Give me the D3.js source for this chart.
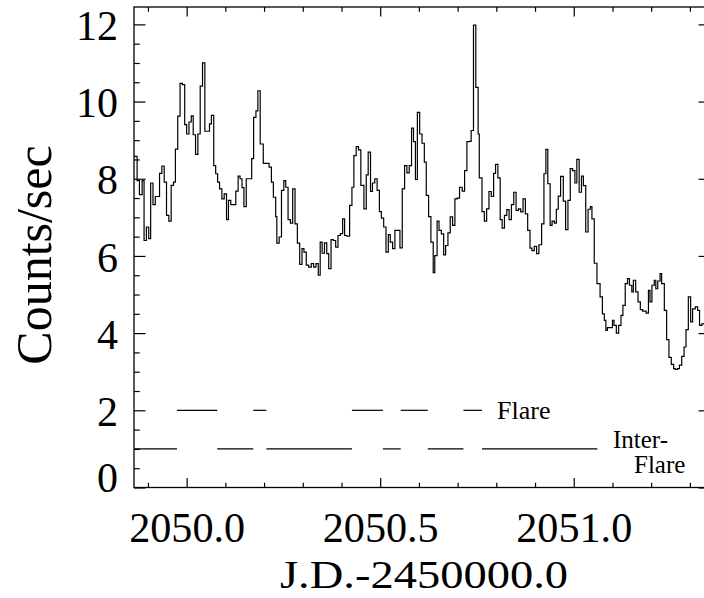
<!DOCTYPE html>
<html>
<head>
<meta charset="utf-8">
<script src="https://cdn.jsdelivr.net/npm/d3@7"></script>
<style>
  body { margin: 0; background: #fff; }
  #chart text { font-family: "Liberation Serif", "Times New Roman", serif; fill: #000; }
</style>
</head>
<body>
<svg id="chart"></svg>
<script>
// light curve, step histogram (bin start JD, counts/sec)
const binStart = [
  2049.864, 2049.872, 2049.878, 2049.885, 2049.890, 2049.896, 2049.902, 2049.907, 2049.913, 2049.919,
  2049.930, 2049.936, 2049.942, 2049.948, 2049.954, 2049.960, 2049.966, 2049.971, 2049.977, 2049.983,
  2049.989, 2049.995, 2050.000, 2050.006, 2050.012, 2050.017, 2050.023, 2050.029, 2050.035, 2050.041,
  2050.047, 2050.059, 2050.064, 2050.070, 2050.075, 2050.080, 2050.085, 2050.091, 2050.097, 2050.103,
  2050.108, 2050.114, 2050.127, 2050.133, 2050.138, 2050.143, 2050.148, 2050.154, 2050.168, 2050.173,
  2050.179, 2050.184, 2050.190, 2050.198, 2050.213, 2050.219, 2050.224, 2050.230, 2050.233, 2050.239,
  2050.245, 2050.251, 2050.256, 2050.262, 2050.268, 2050.274, 2050.280, 2050.286, 2050.292, 2050.298,
  2050.303, 2050.309, 2050.315, 2050.322, 2050.328, 2050.334, 2050.340, 2050.345, 2050.350, 2050.356,
  2050.362, 2050.367, 2050.373, 2050.379, 2050.385, 2050.391, 2050.397, 2050.403, 2050.408, 2050.414,
  2050.421, 2050.427, 2050.432, 2050.438, 2050.444, 2050.450, 2050.458, 2050.464, 2050.469, 2050.475,
  2050.480, 2050.486, 2050.492, 2050.498, 2050.503, 2050.509, 2050.515, 2050.521, 2050.526, 2050.532,
  2050.538, 2050.551, 2050.557, 2050.563, 2050.569, 2050.575, 2050.581, 2050.586, 2050.591, 2050.596,
  2050.602, 2050.608, 2050.614, 2050.619, 2050.625, 2050.631, 2050.637, 2050.641, 2050.647, 2050.652,
  2050.658, 2050.664, 2050.669, 2050.675, 2050.681, 2050.687, 2050.693, 2050.699, 2050.705, 2050.712,
  2050.718, 2050.724, 2050.730, 2050.735, 2050.741, 2050.747, 2050.753, 2050.756, 2050.763, 2050.769,
  2050.775, 2050.781, 2050.787, 2050.793, 2050.798, 2050.804, 2050.810, 2050.815, 2050.821, 2050.827,
  2050.833, 2050.839, 2050.845, 2050.851, 2050.857, 2050.863, 2050.869, 2050.875, 2050.881, 2050.887,
  2050.892, 2050.898, 2050.904, 2050.910, 2050.917, 2050.923, 2050.928, 2050.933, 2050.939, 2050.944,
  2050.950, 2050.955, 2050.960, 2050.966, 2050.973, 2050.979, 2050.985, 2050.991, 2050.997, 2051.003,
  2051.008, 2051.014, 2051.020, 2051.025, 2051.031, 2051.037, 2051.043, 2051.047, 2051.053, 2051.060,
  2051.068, 2051.074, 2051.079, 2051.083, 2051.087, 2051.100, 2051.104, 2051.110, 2051.116, 2051.122,
  2051.127, 2051.133, 2051.139, 2051.144, 2051.150, 2051.154, 2051.160, 2051.166, 2051.172, 2051.178,
  2051.187, 2051.193, 2051.197, 2051.202, 2051.208, 2051.212, 2051.217, 2051.223, 2051.227, 2051.234,
  2051.240, 2051.246, 2051.252, 2051.258, 2051.262, 2051.268, 2051.273, 2051.279, 2051.285, 2051.290,
  2051.296, 2051.302, 2051.307, 2051.314, 2051.320, 2051.325, 2051.331, 2051.352
];
const counts = [
  8.58, 7.95, 7.59, 7.95, 6.40, 6.75, 6.45, 7.89, 7.33, 7.54,
  8.14, 8.33, 7.91, 7.05, 6.90, 7.83, 7.91, 8.77, 9.62, 10.47,
  10.44, 9.40, 9.16, 9.47, 9.63, 9.14, 8.63, 9.16, 10.40, 11.00,
  9.23, 9.42, 9.64, 8.34, 8.13, 7.91, 7.74, 7.48, 7.61, 6.94,
  7.44, 7.33, 7.68, 8.07, 8.00, 7.77, 7.28, 8.00, 8.52, 9.59,
  9.76, 10.28, 8.90, 8.40, 8.30, 7.91, 7.52, 7.02, 6.33, 6.49,
  7.70, 7.95, 7.78, 6.94, 6.85, 7.74, 6.83, 6.33, 5.78, 6.19,
  6.10, 5.76, 5.71, 5.80, 5.71, 5.80, 5.50, 6.36, 6.07, 6.34,
  6.06, 5.67, 6.42, 6.40, 6.23, 6.53, 6.58, 6.96, 6.53, 6.51,
  7.31, 7.78, 8.60, 8.83, 8.75, 7.83, 7.22, 8.10, 8.69, 7.67,
  7.89, 8.00, 7.70, 7.15, 6.98, 6.75, 6.10, 6.55, 6.36, 6.19,
  6.66, 6.21, 7.74, 8.34, 8.15, 8.34, 9.31, 8.96, 7.98, 9.72,
  9.16, 8.92, 8.43, 7.57, 7.02, 6.36, 5.57, 6.01, 6.90, 6.66,
  6.57, 6.03, 6.27, 6.60, 7.01, 6.79, 7.48, 7.50, 7.78, 7.68,
  8.21, 8.96, 8.97, 9.25, 11.98, 10.37, 9.16, 8.02, 7.15, 6.90,
  7.22, 7.67, 7.54, 8.14, 8.37, 8.02, 6.94, 6.72, 7.05, 7.20,
  6.94, 7.33, 7.65, 7.18, 7.22, 7.14, 7.48, 7.09, 6.66, 6.20,
  6.14, 6.25, 6.06, 6.29, 6.83, 8.13, 8.76, 7.87, 6.79, 6.90,
  6.85, 7.21, 7.55, 8.06, 7.42, 6.68, 7.44, 8.26, 8.21, 7.89,
  8.50, 7.65, 8.07, 7.82, 6.62, 7.21, 7.28, 6.96, 5.81, 5.28,
  4.94, 4.50, 4.33, 4.07, 4.14, 4.33, 4.20, 4.00, 4.20, 4.46,
  4.72, 5.28, 5.41, 5.24, 5.07, 5.37, 5.07, 4.81, 4.61, 4.57,
  4.52, 5.11, 4.81, 5.24, 5.37, 5.15, 5.35, 5.54, 5.28, 4.59,
  3.83, 3.37, 3.19, 3.08, 3.06, 3.08, 3.17, 3.40, 3.64, 4.09,
  4.94, 4.29, 4.63, 4.68, 4.59, 4.20, 4.24, 4.24
];

// time intervals marked at level 2 (flare) and level 1 (inter-flare)
const flareStart = [2049.975, 2050.172, 2050.427, 2050.553, 2050.715];
const flareEnd   = [2050.079, 2050.206, 2050.507, 2050.623, 2050.763];
const interStart = [2049.866, 2050.079, 2050.206, 2050.507, 2050.623, 2050.763];
const interEnd   = [2049.975, 2050.172, 2050.427, 2050.553, 2050.715, 2051.061];

const xMajorTicks = [2050.0, 2050.5, 2051.0];
const xTickLabels = ["2050.0", "2050.5", "2051.0"];
const yMajorTicks = [0, 2, 4, 6, 8, 10, 12];

const svgWidth = 704, svgHeight = 598;
const margin = {top: 7, right: -6, bottom: 110.5, left: 134};
const width = svgWidth - margin.left - margin.right,
      height = svgHeight - margin.top - margin.bottom;

const svg = d3.select("#chart").attr("width", svgWidth).attr("height", svgHeight);
const g = svg.append("g").attr("transform", `translate(${margin.left},${margin.top})`);

const x = d3.scaleLinear().domain([2049.864, 2051.352]).range([0, width]);
const y = d3.scaleLinear().domain([0, 12.45]).range([height, 0]);

const xMinor = d3.range(2049.9, 2051.36, 0.1).map(d => +d.toFixed(1)).filter(d => xMajorTicks.indexOf(d) < 0);
const yMinor = d3.range(0.5, 12.45, 0.5).filter(d => d % 2 !== 0);

const xLen = 9.6, yLen = 11.5;

function noDomain(sel) { sel.select(".domain").remove(); sel.attr("font-family", null); }

// bottom and top ticks
g.append("g").attr("transform", `translate(0,${height})`)
  .call(d3.axisBottom(x).tickValues(xMinor).tickSize(-xLen / 2).tickFormat("")).call(noDomain);
g.append("g").attr("transform", `translate(0,${height})`)
  .call(d3.axisBottom(x).tickValues(xMajorTicks).tickSize(-xLen).tickPadding(54)
    .tickFormat((d, i) => xTickLabels[i]))
  .call(noDomain)
  .selectAll("text").attr("font-size", 42).attr("dy", 0)
  .attr("textLength", 116).attr("lengthAdjust", "spacingAndGlyphs");
g.append("g")
  .call(d3.axisTop(x).tickValues(xMinor).tickSize(-xLen / 2).tickFormat("")).call(noDomain);
g.append("g")
  .call(d3.axisTop(x).tickValues(xMajorTicks).tickSize(-xLen).tickFormat("")).call(noDomain);

// left and right ticks
g.append("g")
  .call(d3.axisLeft(y).tickValues(yMinor).tickSize(-yLen / 2).tickFormat("")).call(noDomain);
g.append("g")
  .call(d3.axisLeft(y).tickValues(yMajorTicks).tickSize(-yLen).tickPadding(16).tickFormat(d3.format("d")))
  .call(noDomain)
  .selectAll("text").attr("font-size", 42).attr("dy", d => d === 0 ? "0.1em" : "0.36em");
g.append("g").attr("transform", `translate(${width},0)`)
  .call(d3.axisRight(y).tickValues(yMinor).tickSize(-yLen / 2).tickFormat("")).call(noDomain);
g.append("g").attr("transform", `translate(${width},0)`)
  .call(d3.axisRight(y).tickValues(yMajorTicks).tickSize(-yLen).tickFormat("")).call(noDomain);

g.selectAll(".tick line").attr("stroke", "#000").attr("stroke-width", 1.2);

// frame
g.append("rect").attr("width", width).attr("height", height)
  .attr("fill", "none").attr("stroke", "#000").attr("stroke-width", 1.3);

g.append("clipPath").attr("id", "clip")
  .append("rect").attr("width", width).attr("height", height);

// light curve
const pts = binStart.map((t, i) => ({t: t, c: counts[i]}));
const line = d3.line().x(d => x(d.t)).y(d => y(d.c)).curve(d3.curveStepAfter);
g.append("path").datum(pts)
  .attr("clip-path", "url(#clip)")
  .attr("d", line)
  .attr("fill", "none").attr("stroke", "#000").attr("stroke-width", 1.2);

// interval bars
g.selectAll(".flare").data(flareStart).enter().append("line")
  .attr("x1", d => x(d)).attr("x2", (d, i) => x(flareEnd[i]))
  .attr("y1", y(2)).attr("y2", y(2))
  .attr("stroke", "#000").attr("stroke-width", 1.2);
g.selectAll(".inter").data(interStart).enter().append("line")
  .attr("x1", d => x(d)).attr("x2", (d, i) => x(interEnd[i]))
  .attr("y1", y(1)).attr("y2", y(1))
  .attr("stroke", "#000").attr("stroke-width", 1.2);

g.append("text").attr("x", 363).attr("y", 412).attr("font-size", 26).text("Flare");
g.append("text").attr("x", 479).attr("y", 441).attr("font-size", 25).text("Inter-");
g.append("text").attr("x", 500).attr("y", 466).attr("font-size", 25).text("Flare");

// axis titles
svg.append("text")
  .attr("x", margin.left + 290).attr("y", 588)
  .attr("text-anchor", "middle").attr("font-size", 41)
  .attr("textLength", 288).attr("lengthAdjust", "spacingAndGlyphs")
  .text("J.D.-2450000.0");

svg.append("text")
  .attr("transform", "translate(51,255) rotate(-90)")
  .attr("text-anchor", "middle").attr("font-size", 50)
  .text("Counts/sec");
</script>
</body>
</html>
